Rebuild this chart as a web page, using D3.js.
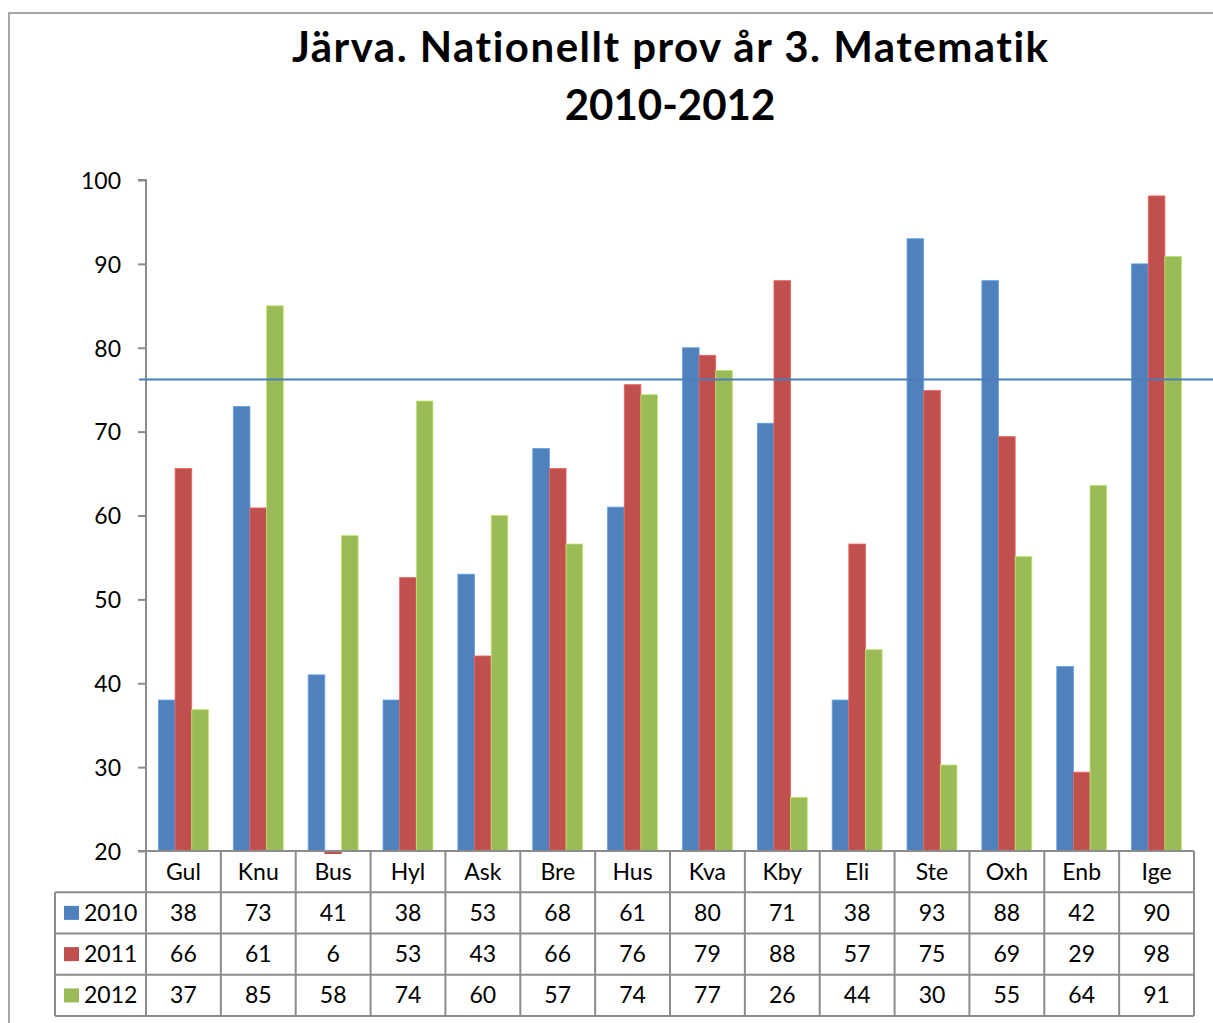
<!DOCTYPE html>
<html>
<head>
<meta charset="utf-8">
<script src="https://cdn.jsdelivr.net/npm/d3@7"></script>
<style>
  html, body { margin: 0; padding: 0; background: #fff; overflow: hidden; }
  svg { display: block; font-family: Lato, "Open Sans", sans-serif; font-variant-ligatures: none; font-feature-settings: "liga" 0, "clig" 0; }
</style>
</head>
<body>
<svg id="chart" width="1213" height="1023"></svg>
<script>
// ---- data ----
const titleLines = ["Järva. Nationellt prov år 3. Matematik", "2010-2012"];
const categories = ["Gul","Knu","Bus","Hyl","Ask","Bre","Hus","Kva","Kby","Eli","Ste","Oxh","Enb","Ige"];
const seriesNames = ["2010","2011","2012"];
const values2010 = [38, 73, 41, 38, 53, 68, 61, 80, 71, 38, 93, 88, 42, 90];
const values2011 = [65.6, 60.9, 5.7, 52.6, 43.25, 65.6, 75.6, 79.1, 88, 56.6, 74.9, 69.4, 29.4, 98.1];
const values2012 = [36.85, 85, 57.6, 73.65, 60, 56.6, 74.4, 77.3, 26.4, 44, 30.25, 55.1, 63.6, 90.9];
const referenceLine = 76.2;
const yTicks = [20, 30, 40, 50, 60, 70, 80, 90, 100];
const seriesColors = ["#4F81BD", "#C0504D", "#9BBB59"];

const seriesValues = [values2010, values2011, values2012];

// ---- layout ----
const svg = d3.select("#chart");
const plot = { left: 146, right: 1194, top: 180, bottom: 851 };
const gridColor = "#8c8c8c";

// outer chart border (extends past the viewport on the right/bottom)
svg.append("rect")
  .attr("x", 9).attr("y", 13).attr("width", 1300).attr("height", 1100)
  .attr("fill", "none").attr("stroke", "#8a8a8a").attr("stroke-width", 1.5);

// title
const title = svg.append("g");
title.selectAll("text").data(titleLines).join("text")
  .attr("x", 670)
  .attr("y", (d, i) => 62 + i * 58)
  .attr("text-anchor", "middle")
  .attr("font-weight", "bold")
  .attr("font-size", 42)
  .attr("fill", "#000")
  .text(d => d);
// stretch the first line to the reference title width
title.select("text").attr("textLength", 756).attr("lengthAdjust", "spacing");

// scales
const x = d3.scaleBand().domain(categories).range([plot.left, plot.right]).padding(0);
const xs = d3.scaleBand().domain(seriesNames).range([0, x.bandwidth()]).paddingInner(0).paddingOuter(0.75);
const y = d3.scaleLinear().domain([20, 100]).range([plot.bottom, plot.top]);

// clip for bars (values below the axis minimum show only a sliver)
svg.append("clipPath").attr("id", "plotclip")
  .append("rect")
  .attr("x", plot.left).attr("y", plot.top - 5)
  .attr("width", plot.right - plot.left + 30)
  .attr("height", plot.bottom - plot.top + 8);

// bars
const barsG = svg.append("g").attr("clip-path", "url(#plotclip)");
seriesNames.forEach((s, si) => {
  barsG.append("g").selectAll("rect")
    .data(categories.map((c, ci) => ({ c, v: seriesValues[si][ci] })))
    .join("rect")
    .attr("x", d => x(d.c) + xs(s))
    .attr("width", xs.bandwidth())
    .attr("y", d => Math.min(y(d.v), y(20)))
    .attr("height", d => Math.abs(y(20) - y(d.v)))
    .attr("fill", seriesColors[si])
    .attr("stroke", d3.color(seriesColors[si]).brighter(0.6))
    .attr("stroke-width", 0.8);
});

// y axis
const yAxis = d3.axisLeft(y).tickValues(yTicks).tickSize(8).tickPadding(17);
const yg = svg.append("g").attr("transform", `translate(${plot.left},0)`).call(yAxis);
yg.select(".domain").attr("stroke", gridColor).attr("stroke-width", 2)
  .attr("d", `M-8,${plot.top}H0V${plot.bottom}`);
yg.selectAll(".tick line").attr("stroke", gridColor).attr("stroke-width", 2);
yg.selectAll(".tick text")
  .attr("font-size", 23).attr("fill", "#000")
  .attr("font-family", "Lato, sans-serif")
  .attr("dy", "0.36em");

// reference line
svg.append("line")
  .attr("x1", 139).attr("x2", 1213)
  .attr("y1", y(referenceLine)).attr("y2", y(referenceLine))
  .attr("stroke", "#4A7EBB").attr("stroke-width", 2);

// ---- data table ----
const rowKeys = ["header"].concat(seriesNames);
const ry = d3.scaleBand().domain(rowKeys).range([plot.bottom, 1016]).padding(0);
const legendLeft = 55;
const table = svg.append("g");
const lineStyle = sel => sel.attr("stroke", gridColor).attr("stroke-width", 2);

// horizontal lines
table.append("line").attr("x1", plot.left - 8).attr("x2", plot.right)
  .attr("y1", ry("header")).attr("y2", ry("header")).call(lineStyle);
seriesNames.forEach(s => {
  table.append("line").attr("x1", legendLeft).attr("x2", plot.right)
    .attr("y1", ry(s)).attr("y2", ry(s)).call(lineStyle);
});
table.append("line").attr("x1", legendLeft).attr("x2", plot.right)
  .attr("y1", ry("2012") + ry.bandwidth()).attr("y2", ry("2012") + ry.bandwidth()).call(lineStyle);

// vertical lines
categories.forEach(c => {
  table.append("line").attr("x1", x(c)).attr("x2", x(c))
    .attr("y1", ry("header")).attr("y2", ry("2012") + ry.bandwidth()).call(lineStyle);
});
table.append("line").attr("x1", plot.right).attr("x2", plot.right)
  .attr("y1", ry("header")).attr("y2", ry("2012") + ry.bandwidth()).call(lineStyle);
table.append("line").attr("x1", legendLeft).attr("x2", legendLeft)
  .attr("y1", ry("2010")).attr("y2", ry("2012") + ry.bandwidth()).call(lineStyle);

// header labels
table.append("g").selectAll("text").data(categories).join("text")
  .attr("x", d => x(d) + x.bandwidth() / 2)
  .attr("y", ry("header") + ry.bandwidth() / 2 + 8)
  .attr("text-anchor", "middle").attr("font-size", 23).attr("fill", "#000")
  .text(d => d);

// value rows
const fmt = d3.format(".0f");
seriesNames.forEach((s, si) => {
  const midY = ry(s) + ry.bandwidth() / 2;
  table.append("g").selectAll("text").data(categories.map((c, ci) => ({ c, v: seriesValues[si][ci] })))
    .join("text")
    .attr("x", d => x(d.c) + x.bandwidth() / 2)
    .attr("y", midY + 8)
    .attr("text-anchor", "middle").attr("font-size", 23).attr("fill", "#000")
    .text(d => fmt(d.v));
  // legend key
  table.append("rect")
    .attr("x", 64).attr("y", midY - 7).attr("width", 15).attr("height", 14)
    .attr("fill", seriesColors[si]);
  table.append("text")
    .attr("x", 84).attr("y", midY + 8)
    .attr("font-size", 23).attr("fill", "#000")
    .text(s);
});
</script>
</body>
</html>
